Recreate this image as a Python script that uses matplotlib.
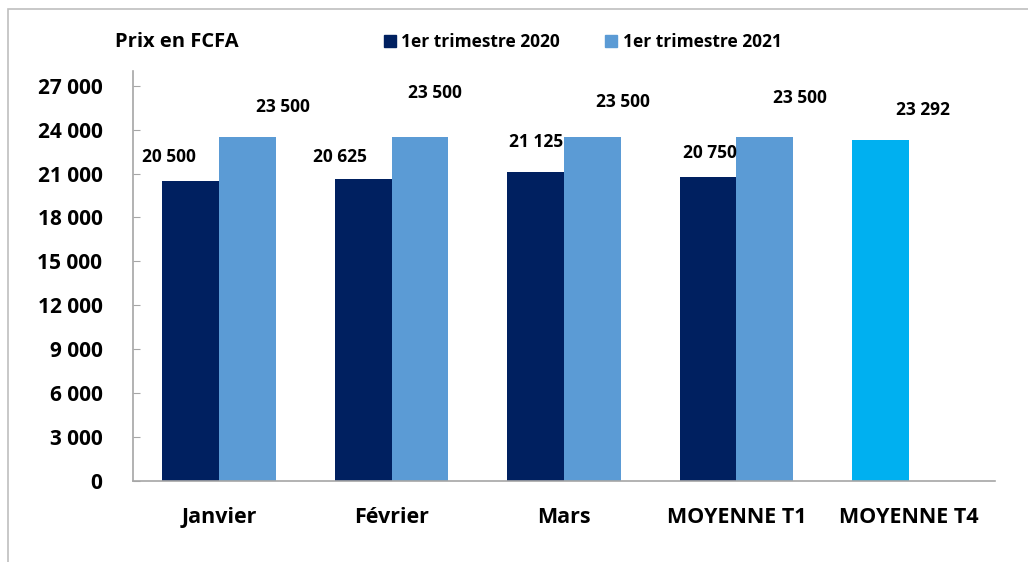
import matplotlib
matplotlib.use("Agg")
import matplotlib.pyplot as plt
from matplotlib.patches import Rectangle, Patch
import numpy as np

plt.rcParams["font.family"] = ["Open Sans", "DejaVu Sans"]
plt.rcParams["font.weight"] = "bold"

categories = ["Janvier", "Février", "Mars", "MOYENNE T1", "MOYENNE T4"]
prix_2020 = [20500, 20625, 21125, 20750]
prix_2021 = [23500, 23500, 23500, 23500]
prix_t4 = [23292]
yticks = list(range(0, 27001, 3000))

# manual label offsets (pixels) as placed in the original chart
off_2020 = [(-22, 24), (-23, 22), (1, 30), (2, 24)]
off_2021 = [(35, 30), (15, 44), (30, 35), (35, 39)]
off_t4 = [(43, 30)]

c_dark = "#002060"
c_light = "#5B9BD5"
c_cyan = "#00B0F0"


def fmt(v):
    return f"{v:,}".replace(",", " ")


fig = plt.figure(figsize=(10.28, 5.62), dpi=100)
fig.patches.append(Rectangle((8 / 1028, -0.1), 1.2, 1 - 9 / 562 + 0.1,
                             transform=fig.transFigure, fill=False,
                             edgecolor="#BFBFBF", linewidth=1.2))

ax = fig.add_axes([133 / 1028, 81 / 562, 862 / 1028, 410 / 562])

x = np.arange(len(categories))
w = 0.33
b1 = ax.bar(x[:4] - w / 2, prix_2020, w, color=c_dark)
b2 = ax.bar(x[:4] + w / 2, prix_2021, w, color=c_light)
b3 = ax.bar(x[4:] - w / 2, prix_t4, w, color=c_cyan)

for bars, vals, offs in [(b1, prix_2020, off_2020), (b2, prix_2021, off_2021),
                         (b3, prix_t4, off_t4)]:
    for b, v, (dx, dy) in zip(bars, vals, offs):
        ax.annotate(fmt(v), (b.get_x() + b.get_width() / 2, v),
                    xytext=(dx, dy), textcoords="offset pixels",
                    ha="center", va="center", fontsize=12.5, fontweight="bold")

ax.set_xlim(-0.5, len(categories) - 0.5)
ax.set_ylim(0, 28000)
ax.set_yticks(yticks)
ax.set_yticklabels([fmt(v) for v in yticks], fontsize=15, fontweight="bold")
ax.set_xticks(x)
ax.set_xticklabels(categories, fontsize=15.5, fontweight="bold")
ax.tick_params(axis="x", length=0, pad=19)
ax.tick_params(axis="y", direction="in", length=5, pad=22, color="#A6A6A6")

for s in ["top", "right"]:
    ax.spines[s].set_visible(False)
for s in ["left", "bottom"]:
    ax.spines[s].set_color("#A6A6A6")
    ax.spines[s].set_linewidth(1.2)

fig.text(177 / 1028, 1 - 42 / 562, "Prix en FCFA", ha="center", va="center",
         fontsize=14.5, fontweight="bold")

handles = [Patch(color=c_dark, label="1er trimestre 2020"),
           Patch(color=c_light, label="1er trimestre 2021")]
fig.legend(handles=handles, loc="center left",
           bbox_to_anchor=(384 / 1028, 1 - 42 / 562), ncol=2, frameon=False,
           fontsize=12.5, handlelength=0.7, handleheight=0.7,
           handletextpad=0.3, columnspacing=2.6, borderpad=0, borderaxespad=0)

fig.savefig("out.png", dpi=100)
